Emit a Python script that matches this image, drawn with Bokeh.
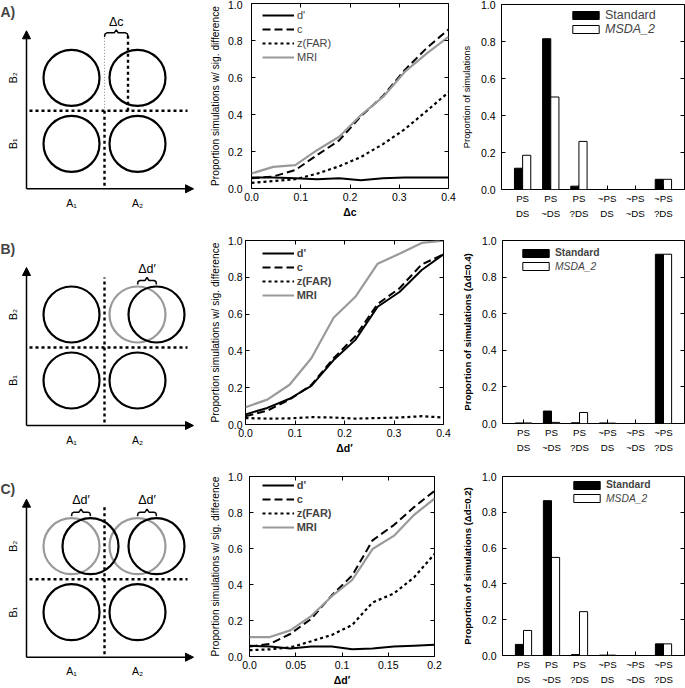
from bokeh.plotting import figure
from bokeh.layouts import column, row
from bokeh.models import (Legend, LegendItem, LinearAxis, FixedTicker, Label,
                          Arrow, NormalHead, Range1d, ColumnDataSource)
from bokeh.transform import dodge
from bokeh.core.properties import value
from bokeh.embed import file_html
from bokeh.resources import INLINE

FONT = "Liberation Sans"
GRAY = "#9a9a9a"

# ---------------- data: simulation curves ----------------
x_A = [0.0, 0.044, 0.089, 0.133, 0.178, 0.222, 0.267, 0.311, 0.356, 0.4]
A_dprime = [0.060, 0.060, 0.055, 0.050, 0.055, 0.045, 0.055, 0.060, 0.060, 0.060]
A_c = [0.055, 0.065, 0.100, 0.180, 0.260, 0.390, 0.500, 0.640, 0.760, 0.860]
A_zfar = [0.030, 0.040, 0.050, 0.080, 0.120, 0.170, 0.240, 0.320, 0.420, 0.520]
A_mri = [0.081, 0.117, 0.126, 0.207, 0.280, 0.396, 0.495, 0.630, 0.730, 0.820]

x_B = [0.0, 0.044, 0.089, 0.133, 0.178, 0.222, 0.267, 0.311, 0.356, 0.4]
B_dprime = [0.055, 0.090, 0.140, 0.210, 0.350, 0.460, 0.640, 0.720, 0.840, 0.925]
B_c = [0.045, 0.075, 0.135, 0.215, 0.360, 0.480, 0.655, 0.740, 0.870, 0.925]
B_zfar = [0.035, 0.032, 0.033, 0.040, 0.038, 0.032, 0.035, 0.038, 0.045, 0.038]
B_mri = [0.094, 0.135, 0.216, 0.360, 0.580, 0.694, 0.874, 0.928, 0.987, 0.999]

x_C = [0.0, 0.022, 0.044, 0.067, 0.089, 0.111, 0.133, 0.156, 0.178, 0.2]
C_dprime = [0.060, 0.055, 0.045, 0.055, 0.055, 0.040, 0.045, 0.055, 0.060, 0.065]
C_c = [0.055, 0.070, 0.125, 0.210, 0.340, 0.450, 0.645, 0.730, 0.830, 0.920]
C_zfar = [0.035, 0.040, 0.050, 0.085, 0.120, 0.175, 0.300, 0.350, 0.440, 0.570]
C_mri = [0.108, 0.108, 0.145, 0.226, 0.335, 0.425, 0.597, 0.670, 0.787, 0.877]

series_names = ["d'", "c", "z(FAR)", "MRI"]

# tick labels
y_ticks = [0.0, 0.2, 0.4, 0.6, 0.8, 1.0]
y_tick_labels = ["0.0", "0.2", "0.4", "0.6", "0.8", "1.0"]
xAB_ticks = [0.0, 0.1, 0.2, 0.3, 0.4]
xAB_tick_labels = ["0.0", "0.1", "0.2", "0.3", "0.4"]
xC_ticks = [0.0, 0.05, 0.1, 0.15, 0.2]
xC_tick_labels = ["0.0", "0.05", "0.1", "0.15", "0.2"]

# ---------------- data: outcome categories ----------------
categories = ["PS\nDS", "PS\n~DS", "PS\n?DS", "~PS\nDS", "~PS\n~DS", "~PS\n?DS"]
A_standard = [0.115, 0.815, 0.018, 0.0, 0.0, 0.055]
A_msda = [0.185, 0.500, 0.260, 0.0, 0.0, 0.055]
B_standard = [0.003, 0.068, 0.004, 0.003, 0.0, 0.925]
B_msda = [0.003, 0.006, 0.060, 0.002, 0.0, 0.925]
C_standard = [0.062, 0.865, 0.005, 0.002, 0.0, 0.065]
C_msda = [0.140, 0.548, 0.245, 0.002, 0.0, 0.065]

# ---------------- schematic parameters ----------------
cell_centres = [45, 111]     # A1/A2 (x) and B1/B2 (y) centres
circle_r = 28
crit = 78                    # criterion lines
shift_c = 23.5
shift_d = 19
axis_len_x = 167
axis_len_y = 158
A_labels = ["A\u2081", "A\u2082"]
B_labels = ["B\u2081", "B\u2082"]

# ---------------- layout sizes ----------------
W1, W2, W3 = 205, 253, 227
ROW_H = [226, 230, 232]


def style_axis(ax, size="10.5px"):
    ax.major_label_text_font = FONT
    ax.major_label_text_font_size = size
    ax.major_label_text_color = "black"
    ax.axis_label_text_font = FONT
    ax.axis_label_text_color = "black"
    ax.major_tick_in = 4
    ax.major_tick_out = 0
    ax.major_tick_line_color = "black"
    ax.minor_tick_line_color = None
    ax.axis_line_color = None


def dummy_axis(p, ticks, side):
    ax = LinearAxis(ticker=FixedTicker(ticks=ticks), major_label_text_font_size="0px",
                    major_label_text_color=None,
                    major_label_standoff=0, major_tick_in=4, major_tick_out=0,
                    minor_tick_line_color=None, axis_line_color=None,
                    major_tick_line_color="black")
    p.add_layout(ax, side)


def diagram(H, origin_y, label, label_top):
    ox = 26
    p = figure(width=W1, height=H, x_range=Range1d(-ox, W1 - ox),
               y_range=Range1d(-(H - origin_y), origin_y),
               x_axis_type=None, y_axis_type=None, output_backend="svg",
               toolbar_location=None, min_border=0, frame_align=False)
    p.grid.visible = False
    p.outline_line_color = None
    for xe, ye in ((axis_len_x, 0), (0, axis_len_y)):
        p.add_layout(Arrow(end=NormalHead(size=8, fill_color="black", line_color="black"),
                           x_start=0, y_start=0, x_end=xe, y_end=ye,
                           line_width=1.5, line_color="black"))
    p.text(x=cell_centres, y=[-14, -14], text=A_labels, text_font=value(FONT),
           text_font_size="10.5px", text_align="center", text_baseline="middle")
    p.text(x=[-14, -14], y=cell_centres, text=B_labels, text_font=value(FONT),
           text_font_size="10.5px", text_align="center", text_baseline="middle", angle=1.5708)
    p.line([3, 161], [crit, crit], line_color="black", line_width=2.4, line_dash="3 3")
    p.add_layout(Label(x=0, y=H - label_top, x_units="screen", y_units="screen", text=label,
                       text_font=FONT, text_font_size="14px", text_font_style="bold",
                       text_baseline="top"))
    return p


def circles(p, xs, ys, color):
    p.circle(x=xs, y=ys, radius=circle_r, fill_color=None, line_color=color, line_width=2.2)


def brace(p, x0, x1, y, txt, ty):
    xm = (x0 + x1) / 2
    xs = [x0, x0 + 0.6, x0 + 2.5, xm - 2, xm, xm + 2, x1 - 2.5, x1 - 0.6, x1]
    ys = [y - 4, y - 1, y, y, y + 3, y, y, y - 1, y - 4]
    p.line(xs, ys, line_color="black", line_width=1.5)
    p.text(x=[xm], y=[ty], text=[txt], text_font=value(FONT), text_font_size="12.5px",
           text_align="center", text_baseline="middle")


# ---- diagram A ----
dA = diagram(ROW_H[0], 188.3, "A)", 3)
circles(dA, [cell_centres[0], cell_centres[1], cell_centres[0], cell_centres[1]],
        [cell_centres[0], cell_centres[0], cell_centres[1], cell_centres[1]], "black")
dA.line([crit, crit], [3, crit], line_color="black", line_width=2.4, line_dash="3 3")
dA.line([crit, crit], [crit, 155], line_color="#888888", line_width=1, line_dash="1 2")
dA.line([crit + shift_c, crit + shift_c], [crit, 155], line_color="black", line_width=2.4,
        line_dash="3 3")
brace(dA, crit, crit + shift_c, 156, "\u0394c", 167)

# ---- diagram B ----
dB = diagram(ROW_H[1], 199, "B)", 14)
circles(dB, [cell_centres[0], cell_centres[1], cell_centres[0]],
        [cell_centres[0], cell_centres[0], cell_centres[1]], "black")
circles(dB, [cell_centres[1]], [cell_centres[1]], GRAY)
circles(dB, [cell_centres[1] + shift_d], [cell_centres[1]], "black")
dB.line([crit, crit], [3, 148], line_color="black", line_width=2.4, line_dash="3 3")
brace(dB, cell_centres[1], cell_centres[1] + shift_d, 145, "\u0394d\u2032", 157)

# ---- diagram C ----
dC = diagram(ROW_H[2], 200.7, "C)", 24)
circles(dC, cell_centres, [cell_centres[0], cell_centres[0]], "black")
circles(dC, cell_centres, [cell_centres[1], cell_centres[1]], GRAY)
circles(dC, [c + shift_d for c in cell_centres], [cell_centres[1], cell_centres[1]], "black")
dC.line([crit, crit], [3, 150], line_color="black", line_width=2.4, line_dash="3 3")
brace(dC, cell_centres[0], cell_centres[0] + shift_d, 145, "\u0394d\u2032", 157)
brace(dC, cell_centres[1], cell_centres[1] + shift_d, 145, "\u0394d\u2032", 157)


def line_chart(H, x, dp, c, zf, mri, xmax, xticks, xlabels, xlabel, left, top, fw, fh,
               tick_standoff, leg_left, leg_top, bold):
    p = figure(width=W2, height=H, x_range=Range1d(0, xmax), y_range=Range1d(0, 1),
               output_backend="svg", toolbar_location=None, frame_align=False,
               min_border_left=left, min_border_top=top,
               min_border_right=W2 - left - fw, min_border_bottom=H - top - fh)
    p.xgrid.visible = False
    p.ygrid.visible = False
    p.outline_line_color = "black"
    p.outline_line_alpha = 1
    p.outline_line_width = 1
    src = ColumnDataSource(dict(x=x, dp=dp, c=c, zf=zf, mri=mri))
    r1 = p.line("x", "dp", source=src, line_color="black", line_width=2)
    r2 = p.line("x", "c", source=src, line_color="black", line_width=2, line_dash="8 4")
    r3 = p.line("x", "zf", source=src, line_color="black", line_width=2.2, line_dash="3 3")
    r4 = p.line("x", "mri", source=src, line_color=GRAY, line_width=2.2)
    for ax in (p.xaxis[0], p.yaxis[0]):
        style_axis(ax)
    p.xaxis.ticker = FixedTicker(ticks=xticks)
    p.xaxis.major_label_overrides = dict(zip(xticks, xlabels))
    p.xaxis.major_label_standoff = 4
    p.xaxis.axis_label = xlabel
    p.xaxis.axis_label_text_font_size = "10.5px"
    p.xaxis.axis_label_text_font_style = "bold"
    p.xaxis.axis_label_standoff = 2
    p.yaxis.ticker = FixedTicker(ticks=y_ticks)
    p.yaxis.major_label_overrides = dict(zip(y_ticks, y_tick_labels))
    p.yaxis.major_label_standoff = tick_standoff
    p.yaxis.axis_label = "Proportion simulations w/ sig. difference"
    p.yaxis.axis_label_text_font_size = "10.2px"
    p.yaxis.axis_label_text_font_style = "normal"
    p.yaxis.axis_label_standoff = 4
    dummy_axis(p, y_ticks, "right")
    dummy_axis(p, xticks, "above")
    items = [LegendItem(label=n, renderers=[r]) for n, r in zip(series_names, [r1, r2, r3, r4])]
    n = len(items)
    item_h, spacing = 12, 2
    leg_h = n * item_h + (n - 1) * spacing
    leg = Legend(items=items, location=(leg_left, fh - leg_top - leg_h),
                 glyph_width=32, glyph_height=item_h, label_height=item_h, spacing=spacing,
                 padding=0, margin=0, label_standoff=3, border_line_color=None,
                 background_fill_alpha=0, label_text_font=FONT, label_text_font_size="11px",
                 label_text_font_style="bold" if bold else "normal")
    p.add_layout(leg)
    return p


mA = line_chart(ROW_H[0], x_A, A_dprime, A_c, A_zfar, A_mri, 0.4, xAB_ticks, xAB_tick_labels,
                "\u0394c", 46, 3, 197, 185, 9, 11, 6.4, False)
mB = line_chart(ROW_H[1], x_B, B_dprime, B_c, B_zfar, B_mri, 0.4, xAB_ticks, xAB_tick_labels,
                "\u0394d\u2032", 40, 14, 198, 185, 3, 16.7, 8.3, True)
mC = line_chart(ROW_H[2], x_C, C_dprime, C_c, C_zfar, C_mri, 0.2, xC_ticks, xC_tick_labels,
                "\u0394d\u2032", 44, 20, 185, 184, 7, 12.7, 6.6, True)


def bar_chart(H, std, msda, ylabel, ylabel_bold, ylabel_size, left, top, fw, fh,
              leg_left, leg_top, std_bold, leg_font):
    p = figure(width=W3, height=H, x_range=Range1d(0.25, 6.75), y_range=Range1d(0, 1),
               output_backend="svg", toolbar_location=None, frame_align=False,
               min_border_left=left, min_border_top=top,
               min_border_right=W3 - left - fw, min_border_bottom=H - top - fh)
    p.xgrid.visible = False
    p.ygrid.visible = False
    p.outline_line_color = "black"
    p.outline_line_width = 1
    pos = list(range(1, len(categories) + 1))
    src = ColumnDataSource(dict(x=pos, std=std, msda=msda))
    rs = p.vbar(x=dodge("x", -0.145, range=p.x_range), top="std", width=0.29, source=src,
                fill_color="black", line_color="black", line_width=1)
    rm = p.vbar(x=dodge("x", 0.145, range=p.x_range), top="msda", width=0.29, source=src,
                fill_color="white", line_color="black", line_width=1)
    for ax in (p.xaxis[0], p.yaxis[0]):
        style_axis(ax)
    p.xaxis.ticker = FixedTicker(ticks=pos)
    p.xaxis.major_label_overrides = dict(zip(pos, categories))
    p.xaxis.major_label_text_font_size = "9.7px"
    p.xaxis.major_label_text_line_height = 1.45
    p.xaxis.major_label_standoff = 3
    p.yaxis.ticker = FixedTicker(ticks=y_ticks)
    p.yaxis.major_label_overrides = dict(zip(y_ticks, y_tick_labels))
    p.yaxis.major_label_standoff = 6
    p.yaxis.axis_label = ylabel
    p.yaxis.axis_label_text_font_size = ylabel_size
    p.yaxis.axis_label_text_font_style = "bold" if ylabel_bold else "normal"
    p.yaxis.axis_label_standoff = 6
    dummy_axis(p, y_ticks, "right")
    gh = 10
    common = dict(glyph_width=33, glyph_height=gh, label_height=gh, padding=0, margin=0,
                  label_standoff=3, border_line_color=None, background_fill_alpha=0,
                  label_text_font=FONT, label_text_font_size=leg_font)
    l1 = Legend(items=[LegendItem(label="Standard", renderers=[rs])],
                location=(leg_left, fh - leg_top - gh),
                label_text_font_style="bold" if std_bold else "normal", **common)
    l2 = Legend(items=[LegendItem(label="MSDA_2", renderers=[rm])],
                location=(leg_left, fh - leg_top - 13.5 - gh),
                label_text_font_style="italic", **common)
    p.add_layout(l1)
    p.add_layout(l2)
    return p


bA = bar_chart(ROW_H[0], A_standard, A_msda, "Proportion of simulations", False, "9.3px",
               41, 4, 185, 185, 68, 8.3, False, "12.5px")
bB = bar_chart(ROW_H[1], B_standard, B_msda, "Proportion of simulations (\u0394d=0.4)", True,
               "9.6px", 41, 14, 185, 185, 17, 10, True, "10.3px")
bC = bar_chart(ROW_H[2], C_standard, C_msda, "Proportion of simulations (\u0394d=0.2)", True,
               "9.6px", 41, 20, 185, 184, 68, 9, True, "10.3px")

layout = column(row(dA, mA, bA), row(dB, mB, bB), row(dC, mC, bC))
open("out.html", "w").write(file_html(layout, INLINE))
